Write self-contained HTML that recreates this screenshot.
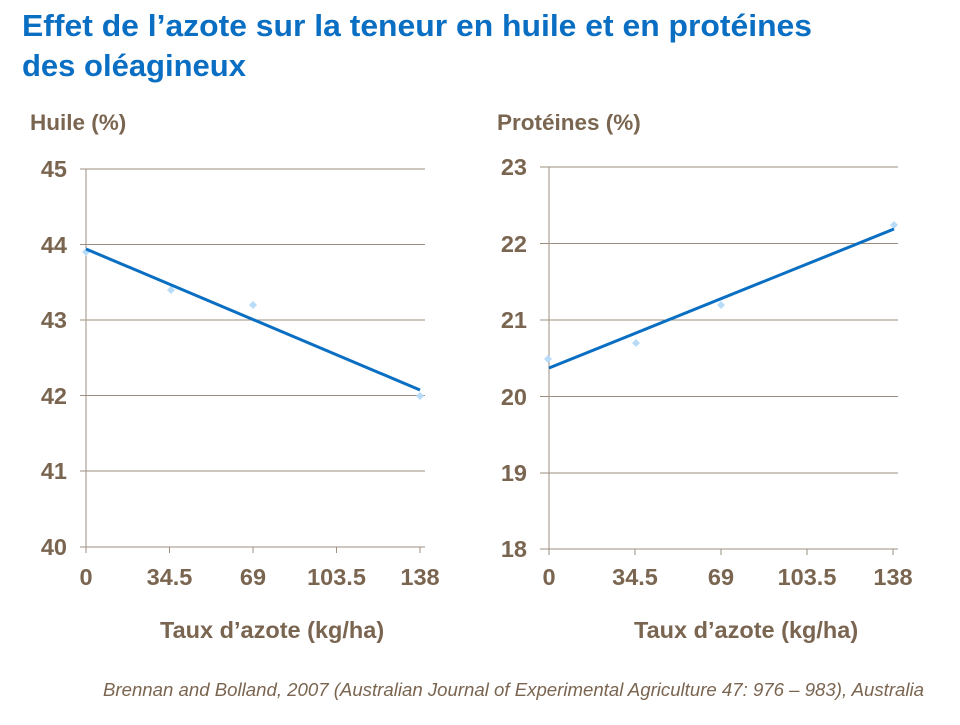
<!DOCTYPE html>
<html><head><meta charset="utf-8"><style>
body{margin:0;width:960px;height:720px;background:#fff;overflow:hidden;font-family:"Liberation Sans",Arial,sans-serif}
</style></head><body>
<svg width="960" height="720" xmlns="http://www.w3.org/2000/svg" font-family="Liberation Sans, Arial, sans-serif">
<text x="22" y="36" font-size="31" font-weight="bold" fill="#0a6fc2" textLength="790" lengthAdjust="spacingAndGlyphs">Effet de l’azote sur la teneur en huile et en protéines</text>
<text x="22" y="76" font-size="31" font-weight="bold" fill="#0a6fc2">des oléagineux</text>
<g fill="#7a6550" font-weight="bold">
<text x="30" y="130" font-size="22.5">Huile (%)</text>
<text x="497" y="130" font-size="22.5">Protéines (%)</text>
<text x="160" y="638" font-size="23.5">Taux d’azote (kg/ha)</text>
<text x="634" y="638" font-size="23.5">Taux d’azote (kg/ha)</text>
</g>
<g stroke="#9c8f80" stroke-width="1">
<line x1="80" y1="169" x2="425" y2="169"/><line x1="80" y1="244.5" x2="425" y2="244.5"/><line x1="80" y1="320" x2="425" y2="320"/><line x1="80" y1="395.5" x2="425" y2="395.5"/><line x1="80" y1="471" x2="425" y2="471"/><line x1="80" y1="547" x2="425" y2="547"/>
<line x1="86" y1="169" x2="86" y2="553"/>
<line x1="169.5" y1="547" x2="169.5" y2="553"/><line x1="253" y1="547" x2="253" y2="553"/><line x1="336.5" y1="547" x2="336.5" y2="553"/><line x1="420" y1="547" x2="420" y2="553"/>
<line x1="540" y1="167" x2="898" y2="167"/><line x1="540" y1="243.5" x2="898" y2="243.5"/><line x1="540" y1="320" x2="898" y2="320"/><line x1="540" y1="396.5" x2="898" y2="396.5"/><line x1="540" y1="473" x2="898" y2="473"/><line x1="540" y1="549" x2="898" y2="549"/>
<line x1="549" y1="167" x2="549" y2="555"/>
<line x1="635" y1="549" x2="635" y2="555"/><line x1="721" y1="549" x2="721" y2="555"/><line x1="807" y1="549" x2="807" y2="555"/><line x1="893" y1="549" x2="893" y2="555"/>
</g>
<g fill="#7a6550" font-weight="bold" font-size="23.5">
<g text-anchor="end"><text x="67" y="177">45</text><text x="67" y="253">44</text><text x="67" y="328">43</text><text x="67" y="404">42</text><text x="67" y="479">41</text><text x="67" y="555">40</text>
<text x="527" y="175">23</text><text x="527" y="252">22</text><text x="527" y="328">21</text><text x="527" y="405">20</text><text x="527" y="481">19</text><text x="527" y="557">18</text></g>
<g text-anchor="middle"><text x="86" y="585">0</text><text x="169.5" y="585">34.5</text><text x="253" y="585">69</text><text x="336.5" y="585">103.5</text><text x="420" y="585">138</text>
<text x="549" y="585">0</text><text x="635" y="585">34.5</text><text x="721" y="585">69</text><text x="807" y="585">103.5</text><text x="893" y="585">138</text></g>
</g>
<g fill="#b8dcf8">
<path d="M86 248l4 4-4 4-4-4z"/><path d="M171 286l4 4-4 4-4-4z"/><path d="M253 301l4 4-4 4-4-4z"/><path d="M420 392l4 4-4 4-4-4z"/>
<path d="M548 355l4 4-4 4-4-4z"/><path d="M636 339l4 4-4 4-4-4z"/><path d="M721 301l4 4-4 4-4-4z"/><path d="M894 221l4 4-4 4-4-4z"/>
</g>
<line x1="86" y1="249" x2="420" y2="390" stroke="#0a6fc2" stroke-width="3"/>
<line x1="549" y1="368" x2="894" y2="229" stroke="#0a6fc2" stroke-width="3"/>
<text x="924" y="696" font-size="18" font-style="italic" fill="#7a6550" text-anchor="end" textLength="821" lengthAdjust="spacingAndGlyphs">Brennan and Bolland, 2007 (Australian Journal of Experimental Agriculture 47: 976 – 983), Australia</text>
</svg>
</body></html>
